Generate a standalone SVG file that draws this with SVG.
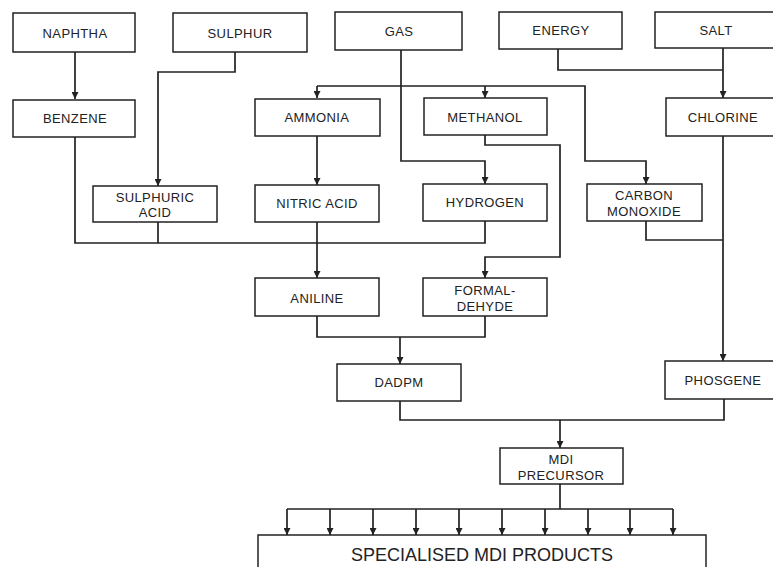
<svg xmlns="http://www.w3.org/2000/svg" width="773" height="567" viewBox="0 0 773 567">
<style>
.box{fill:#fff;stroke:#222;stroke-width:1.5}
.t{font-family:"Liberation Sans",Arial,sans-serif;font-size:13px;letter-spacing:0.4px;fill:#222;text-anchor:middle;dominant-baseline:central}
.big{font-family:"Liberation Sans",Arial,sans-serif;font-size:18px;fill:#222;text-anchor:middle;dominant-baseline:central}
.c{fill:none;stroke:#222;stroke-width:1.7}
</style>
<defs>
<marker id="ah" viewBox="0 0 10 10" refX="10" refY="5" markerWidth="9" markerHeight="7" markerUnits="userSpaceOnUse" orient="auto">
<path d="M0,0 L10,5 L0,10 z" fill="#222"/>
</marker>
</defs>
<rect width="773" height="567" fill="#fff"/>
<g id="connectors">
<path class="c" d="M75,52 V99" marker-end="url(#ah)"/>
<path class="c" d="M235,52 V72 H158 V186" marker-end="url(#ah)"/>
<path class="c" d="M401,50 V161 H485 V184" marker-end="url(#ah)"/>
<path class="c" d="M317,86 H585 V161 H646 V184" marker-end="url(#ah)"/>
<path class="c" d="M317,86 V98" marker-end="url(#ah)"/>
<path class="c" d="M485,86 V98" marker-end="url(#ah)"/>
<path class="c" d="M558,49 V70 H723"/>
<path class="c" d="M723,48 V98" marker-end="url(#ah)"/>
<path class="c" d="M317,136 V185" marker-end="url(#ah)"/>
<path class="c" d="M485,135 V145 H560 V257 H485 V278" marker-end="url(#ah)"/>
<path class="c" d="M75,137 V243 H485 V221"/>
<path class="c" d="M158,222 V243"/>
<path class="c" d="M317,222 V278" marker-end="url(#ah)"/>
<path class="c" d="M646,221 V240 H723"/>
<path class="c" d="M723,136 V361" marker-end="url(#ah)"/>
<path class="c" d="M317,316 V337 H485 V316"/>
<path class="c" d="M400,337 V364" marker-end="url(#ah)"/>
<path class="c" d="M400,401 V420 H724 V399"/>
<path class="c" d="M560,420 V448" marker-end="url(#ah)"/>
<path class="c" d="M560,484 V509"/>
<path class="c" d="M287,509 H673"/>
<path class="c" d="M287,509 V535" marker-end="url(#ah)"/>
<path class="c" d="M330,509 V535" marker-end="url(#ah)"/>
<path class="c" d="M373,509 V535" marker-end="url(#ah)"/>
<path class="c" d="M416,509 V535" marker-end="url(#ah)"/>
<path class="c" d="M459,509 V535" marker-end="url(#ah)"/>
<path class="c" d="M502,509 V535" marker-end="url(#ah)"/>
<path class="c" d="M545,509 V535" marker-end="url(#ah)"/>
<path class="c" d="M588,509 V535" marker-end="url(#ah)"/>
<path class="c" d="M630,509 V535" marker-end="url(#ah)"/>
<path class="c" d="M673,509 V535" marker-end="url(#ah)"/>
</g>
<g id="naphtha"><rect class="box" x="13" y="13" width="122" height="39"/><text class="t" x="75" y="33">NAPHTHA</text></g>
<g id="sulphur"><rect class="box" x="173" y="13" width="134" height="39"/><text class="t" x="240" y="33">SULPHUR</text></g>
<g id="gas"><rect class="box" x="335" y="12" width="127" height="38"/><text class="t" x="399" y="31">GAS</text></g>
<g id="energy"><rect class="box" x="499" y="12" width="123" height="37"/><text class="t" x="561" y="30">ENERGY</text></g>
<g id="salt"><rect class="box" x="655" y="12" width="125" height="36"/><text class="t" x="716" y="30">SALT</text></g>
<g id="benzene"><rect class="box" x="13" y="100" width="122" height="37"/><text class="t" x="75" y="118">BENZENE</text></g>
<g id="ammonia"><rect class="box" x="255" y="99" width="125" height="37"/><text class="t" x="317" y="117">AMMONIA</text></g>
<g id="methanol"><rect class="box" x="424" y="98" width="123" height="37"/><text class="t" x="485" y="117">METHANOL</text></g>
<g id="chlorine"><rect class="box" x="666" y="98" width="115" height="38"/><text class="t" x="723" y="117">CHLORINE</text></g>
<g id="sulphuric-acid"><rect class="box" x="93" y="186" width="124" height="36"/><text class="t" x="155" y="197">SULPHURIC</text><text class="t" x="155" y="212">ACID</text></g>
<g id="nitric-acid"><rect class="box" x="255" y="185" width="124" height="37"/><text class="t" x="317" y="203">NITRIC ACID</text></g>
<g id="hydrogen"><rect class="box" x="423" y="184" width="124" height="37"/><text class="t" x="485" y="202">HYDROGEN</text></g>
<g id="carbon-monoxide"><rect class="box" x="587" y="184" width="115" height="37"/><text class="t" x="644" y="195">CARBON</text><text class="t" x="644" y="211">MONOXIDE</text></g>
<g id="aniline"><rect class="box" x="255" y="278" width="124" height="38"/><text class="t" x="317" y="298">ANILINE</text></g>
<g id="formaldehyde"><rect class="box" x="423" y="278" width="124" height="38"/><text class="t" x="485" y="290">FORMAL-</text><text class="t" x="485" y="306">DEHYDE</text></g>
<g id="dadpm"><rect class="box" x="337" y="364" width="124" height="37"/><text class="t" x="399" y="382">DADPM</text></g>
<g id="phosgene"><rect class="box" x="665" y="361" width="116" height="38"/><text class="t" x="723" y="380">PHOSGENE</text></g>
<g id="mdi-precursor"><rect class="box" x="500" y="448" width="123" height="36"/><text class="t" x="561" y="459">MDI</text><text class="t" x="561" y="475">PRECURSOR</text></g>
<g id="specialised-mdi-products"><rect class="box" x="258" y="535" width="448" height="40"/><text class="big" x="482" y="555">SPECIALISED MDI PRODUCTS</text></g>
</svg>
